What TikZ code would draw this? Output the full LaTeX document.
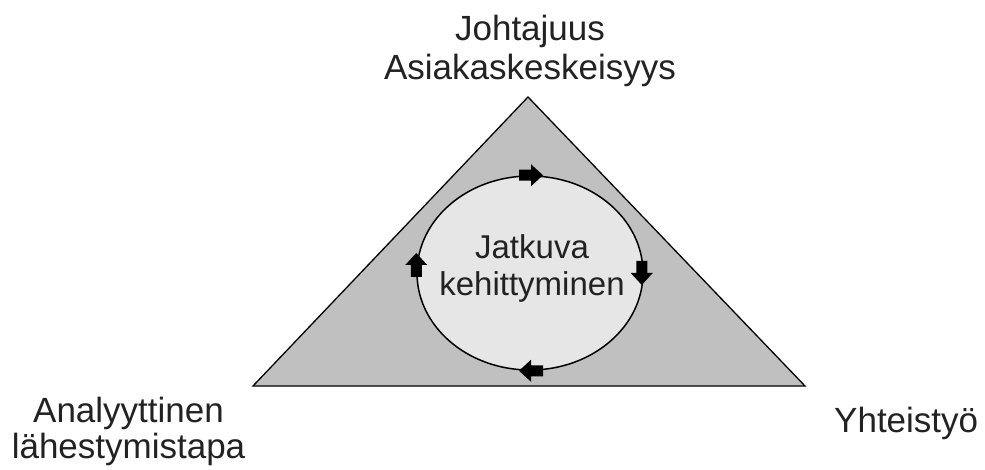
\documentclass[tikz,border=0pt]{standalone}
\usepackage{fontspec}
\setmainfont{Liberation Sans}
\usetikzlibrary{shapes.geometric}
\definecolor{trigray}{HTML}{C0C0C0}
\definecolor{ellgray}{HTML}{E6E6E6}
\definecolor{txt}{HTML}{222222}
\tikzset{
  biglabel/.style={font=\fontsize{35}{39}\selectfont, text=txt, align=center, inner sep=0pt},
  leftlabel/.style={font=\fontsize{35}{36}\selectfont, text=txt, align=center, inner sep=0pt},
  innerlabel/.style={font=\fontsize{33}{37}\selectfont, text=txt, align=center, inner sep=0pt},
  blockarrow/.pic={\fill[black] (-12pt,-5.5pt) -- (0pt,-5.5pt) -- (0pt,-11pt) -- (12pt,0pt) -- (0pt,11pt) -- (0pt,5.5pt) -- (-12pt,5.5pt) -- cycle;}
}
\begin{document}
\begin{tikzpicture}[x=1pt,y=1pt]
\useasboundingbox (0,0) rectangle (985,469);
\coordinate (apex) at (528,372);
\coordinate (bl) at (253,83);
\coordinate (br) at (805,83);
\fill[trigray] (apex) -- (bl) -- (br) -- cycle;
\draw[line width=1.3pt, line join=miter] (apex) -- (bl) -- (br) -- cycle;
\node[ellipse, draw=black, line width=1.5pt, fill=ellgray, minimum width=226pt, minimum height=194pt, inner sep=0pt] (cyc) at (530,196) {};
\node[innerlabel] (inner) at (532,200.5) {Jatkuva\\kehittyminen};
\pic at ([xshift=1pt]cyc.north) {blockarrow};
\pic[rotate=-90] at ([xshift=-2pt]cyc.east) {blockarrow};
\pic[rotate=180] at ([xshift=1pt]cyc.south) {blockarrow};
\pic[rotate=90] at ([yshift=8pt]cyc.west) {blockarrow};
\node[biglabel] (top) at (530,418.5) {Johtajuus\\Asiakaskeskeisyys};
\node[leftlabel] (left) at (128.5,38) {Analyyttinen\\lähestymistapa};
\node[biglabel, anchor=west] (right) at (834,46) {Yhteistyö};
\end{tikzpicture}
\end{document}
